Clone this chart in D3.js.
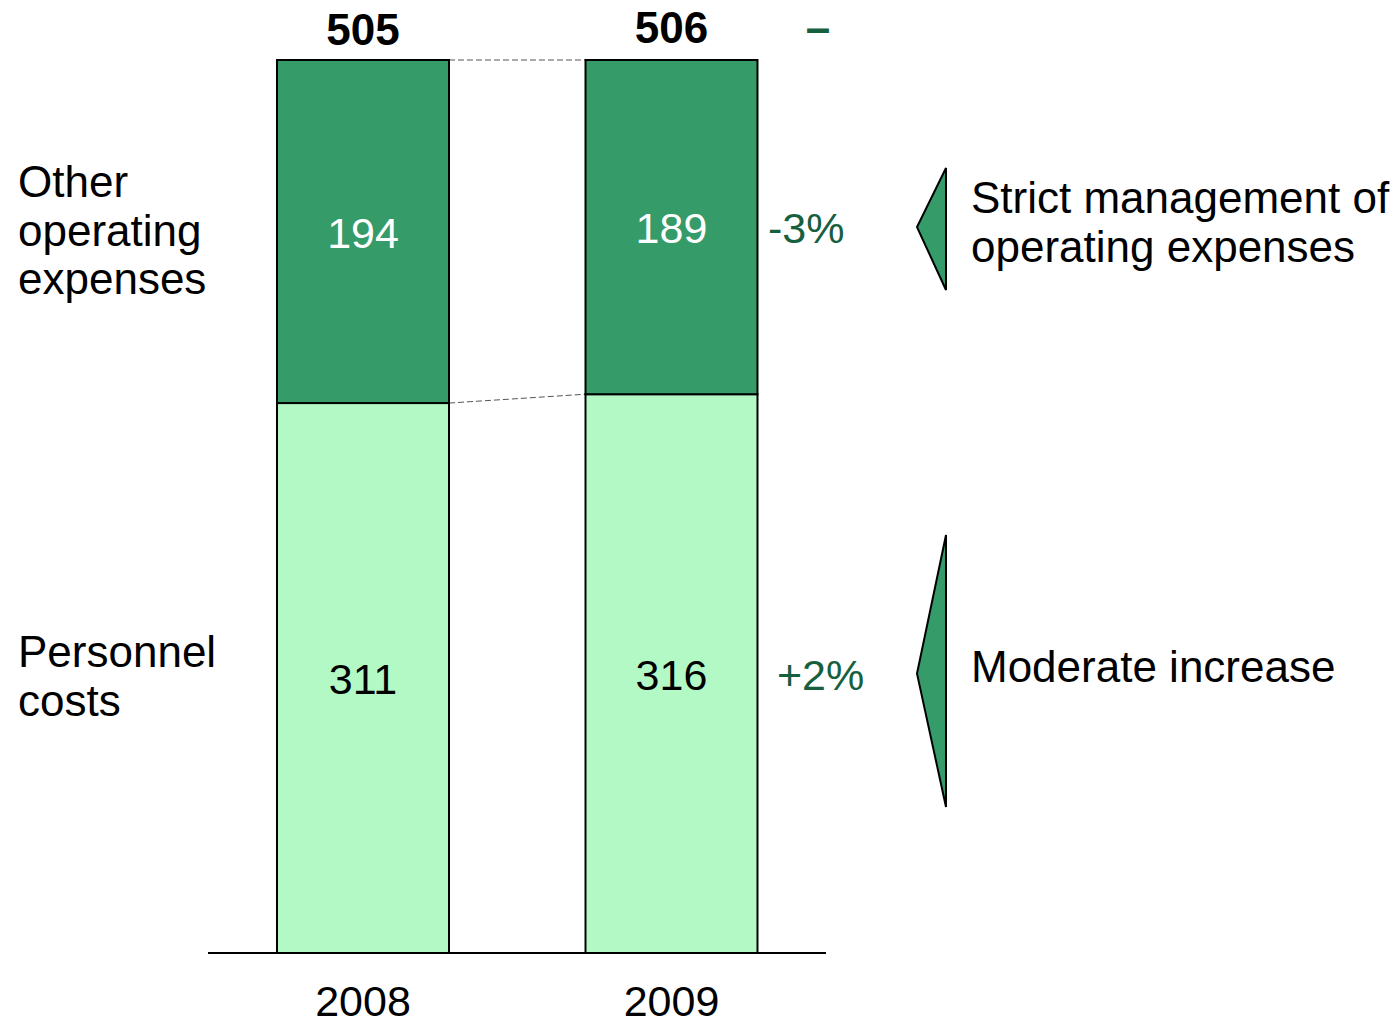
<!DOCTYPE html>
<html>
<head>
<meta charset="utf-8">
<script src="https://cdn.jsdelivr.net/npm/d3@7"></script>
<style>
  html, body { margin: 0; padding: 0; background: #fff; }
  svg { display: block; font-family: "Liberation Sans", Arial, sans-serif; }
</style>
</head>
<body>
<svg id="chart" width="1400" height="1024"></svg>
<script>
// Operating expenses split by component
const years = ["2008", "2009"];
const personnel = [311, 316];
const otherOpex = [194, 189];
const totals = [505, 506];
const changeLabels = ["+2%", "-3%"];          // personnel, other opex (2009 vs 2008)
const totalChange = "–";
const seriesNames = [["Personnel", "costs"], ["Other", "operating", "expenses"]];
const commentary = [["Moderate increase"], ["Strict management of", "operating expenses"]];

const COL_DARK = "#359b68";
const COL_LIGHT = "#b3f9c5";
const COL_TEXT_GREEN = "#17603f";

const svg = d3.select("#chart");

const x = d3.scaleBand()
  .domain(years)
  .range([208, 826.5])
  .paddingInner(0.4425)
  .paddingOuter(0.2237);

const y = d3.scaleLinear()
  .domain([0, 505])
  .range([953, 60]);

const stackData = years.map((yr, i) => ({ year: yr, personnel: personnel[i], other: otherOpex[i] }));
const stack = d3.stack().keys(["personnel", "other"])(stackData);
const fills = [COL_LIGHT, COL_DARK];

// dashed connectors between the bars
const connectors = svg.append("g");
stack.forEach(layer => {
  connectors.append("line")
    .attr("x1", x(years[0]) + x.bandwidth())
    .attr("y1", y(layer[0][1]))
    .attr("x2", x(years[1]))
    .attr("y2", y(layer[1][1]))
    .attr("stroke", "#555")
    .attr("stroke-width", 1)
    .attr("stroke-dasharray", "6,3");
});

// stacked bars
stack.forEach((layer, li) => {
  svg.append("g").selectAll("rect")
    .data(layer)
    .join("rect")
    .attr("x", d => x(d.data.year))
    .attr("y", d => y(d[1]))
    .attr("width", x.bandwidth())
    .attr("height", d => y(d[0]) - y(d[1]))
    .attr("fill", fills[li])
    .attr("stroke", "#000")
    .attr("stroke-width", 2);
});

// segment values
stack.forEach((layer, li) => {
  svg.append("g").selectAll("text")
    .data(layer)
    .join("text")
    .attr("x", d => x(d.data.year) + x.bandwidth() / 2)
    .attr("y", d => (y(d[0]) + y(d[1])) / 2 + 16)
    .attr("text-anchor", "middle")
    .attr("font-size", 43)
    .attr("fill", li === 1 ? "#fff" : "#000")
    .text(d => d[1] - d[0]);
});

// totals on top
svg.append("g").selectAll("text")
  .data(totals)
  .join("text")
  .attr("x", (d, i) => x(years[i]) + x.bandwidth() / 2)
  .attr("y", d => y(d) - 15)
  .attr("text-anchor", "middle")
  .attr("font-size", 44)
  .attr("font-weight", "bold")
  .attr("fill", "#000")
  .text(d => d);

// baseline
svg.append("line")
  .attr("x1", 208).attr("x2", 826)
  .attr("y1", y(0)).attr("y2", y(0))
  .attr("stroke", "#000").attr("stroke-width", 2);

// year labels
svg.append("g").selectAll("text")
  .data(years)
  .join("text")
  .attr("x", d => x(d) + x.bandwidth() / 2)
  .attr("y", 1016)
  .attr("text-anchor", "middle")
  .attr("font-size", 43)
  .text(d => d);

// change labels next to 2009 bar
const last = years.length - 1;
const changeX = [777, 768];
stack.forEach((layer, li) => {
  svg.append("text")
    .attr("x", changeX[li])
    .attr("y", (y(layer[last][0]) + y(layer[last][1])) / 2 + 16)
    .attr("font-size", 43)
    .attr("fill", COL_TEXT_GREEN)
    .text(changeLabels[li]);
});
svg.append("text")
  .attr("x", 818)
  .attr("y", y(totals[last]) - 15)
  .attr("text-anchor", "middle")
  .attr("font-size", 44)
  .attr("font-weight", "bold")
  .attr("fill", COL_TEXT_GREEN)
  .text(totalChange);

// series names on the left
const nameBaselines = [667, 197];
seriesNames.forEach((lines, si) => {
  const t = svg.append("text").attr("font-size", 44).attr("fill", "#000");
  lines.forEach((ln, k) => {
    t.append("tspan").attr("x", 18).attr("y", nameBaselines[si] + k * 48.5).text(ln);
  });
});

// commentary arrows and text on the right
const arrowSpans = [[535, 807], [168, 290]];
const commentBaselines = [682, 213];
stack.forEach((layer, li) => {
  const [top, bottom] = arrowSpans[li];
  const mid = (y(layer[last][0]) + y(layer[last][1])) / 2;
  svg.append("path")
    .attr("d", d3.line()([[946, top], [946, bottom], [917, mid], [946, top]]) + "Z")
    .attr("fill", COL_DARK)
    .attr("stroke", "#000")
    .attr("stroke-width", 2)
    .attr("stroke-linejoin", "miter");
  const t = svg.append("text").attr("font-size", 44).attr("fill", "#000");
  commentary[li].forEach((ln, k) => {
    t.append("tspan").attr("x", 971).attr("y", commentBaselines[li] + k * 48.5).text(ln);
  });
});
</script>
</body>
</html>
